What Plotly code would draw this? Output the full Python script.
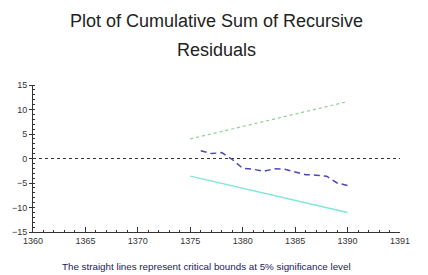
import plotly.graph_objects as go

# Data
cusum_years = list(range(1376, 1391))
cusum_values = [1.6, 1.0, 1.2, -0.2, -2.0, -2.2, -2.6, -2.1, -2.2, -2.8, -3.3, -3.4, -3.6, -5.0, -5.5]
bound_years = [1375, 1390]
upper_bound = [4.0, 11.6]
lower_bound = [-3.6, -11.0]
zero_years = [1360, 1395]
zero_values = [0, 0]
x_tickvals = [1360, 1365, 1370, 1375, 1380, 1385, 1390, 1395]
x_ticktext = ["1360", "1365", "1370", "1375", "1380", "1385", "1390", "1391"]
y_tickvals = [-15, -10, -5, 0, 5, 10, 15]
title_lines = ["Plot of Cumulative Sum of Recursive", "Residuals"]
caption = "The straight lines represent critical bounds at 5% significance level"

fig = go.Figure()
fig.add_trace(go.Scatter(x=zero_years, y=zero_values, mode="lines",
                         line=dict(color="#333333", width=1.2, dash="dot"), hoverinfo="skip"))
fig.add_trace(go.Scatter(x=bound_years, y=upper_bound, mode="lines",
                         line=dict(color="#8fd08f", width=1.2, dash="dot")))
fig.add_trace(go.Scatter(x=bound_years, y=lower_bound, mode="lines",
                         line=dict(color="#80e6d8", width=1.5)))
fig.add_trace(go.Scatter(x=cusum_years, y=cusum_values, mode="lines",
                         line=dict(color="#4848b8", width=1.5, dash="6px,4px")))

fig.update_layout(
    width=428, height=275,
    margin=dict(l=27, r=28, t=85, b=43),
    paper_bgcolor="white", plot_bgcolor="white",
    showlegend=False,
    font=dict(family="Liberation Sans, Arial", color="#222222"),
    annotations=[
        dict(text=title_lines[0], xref="paper", yref="paper", x=0.5, y=1.435,
             xanchor="center", yanchor="middle", showarrow=False,
             font=dict(size=18, color="#222222")),
        dict(text=title_lines[1], xref="paper", yref="paper", x=0.5, y=1.235,
             xanchor="center", yanchor="middle", showarrow=False,
             font=dict(size=18, color="#222222")),
        dict(text=caption, xref="paper", yref="paper", x=0.472, y=-0.235,
             xanchor="center", yanchor="middle", showarrow=False,
             font=dict(size=9.8, color="#1a1a5a")),
    ],
)
fig.update_xaxes(range=[1360, 1395], tickvals=x_tickvals, ticktext=x_ticktext,
                 showgrid=False, zeroline=False, showline=True, linecolor="#333333", linewidth=1,
                 ticks="inside", ticklen=5, tickcolor="#333333",
                 tickfont=dict(size=9, color="#333333"),
                 minor=dict(dtick=1, ticks="inside", ticklen=2, tickcolor="#333333"))
fig.update_yaxes(range=[-15, 15], tickvals=y_tickvals,
                 showgrid=False, zeroline=False, showline=True, linecolor="#333333", linewidth=1,
                 ticks="outside", ticklen=3, tickcolor="#333333",
                 tickfont=dict(size=9, color="#333333"), ticklabelstandoff=0,
                 minor=dict(dtick=1, ticks="inside", ticklen=2, tickcolor="#333333"))

fig.write_html("out.html", config={"displayModeBar": False},
               post_script="document.body.style.margin='0';")
